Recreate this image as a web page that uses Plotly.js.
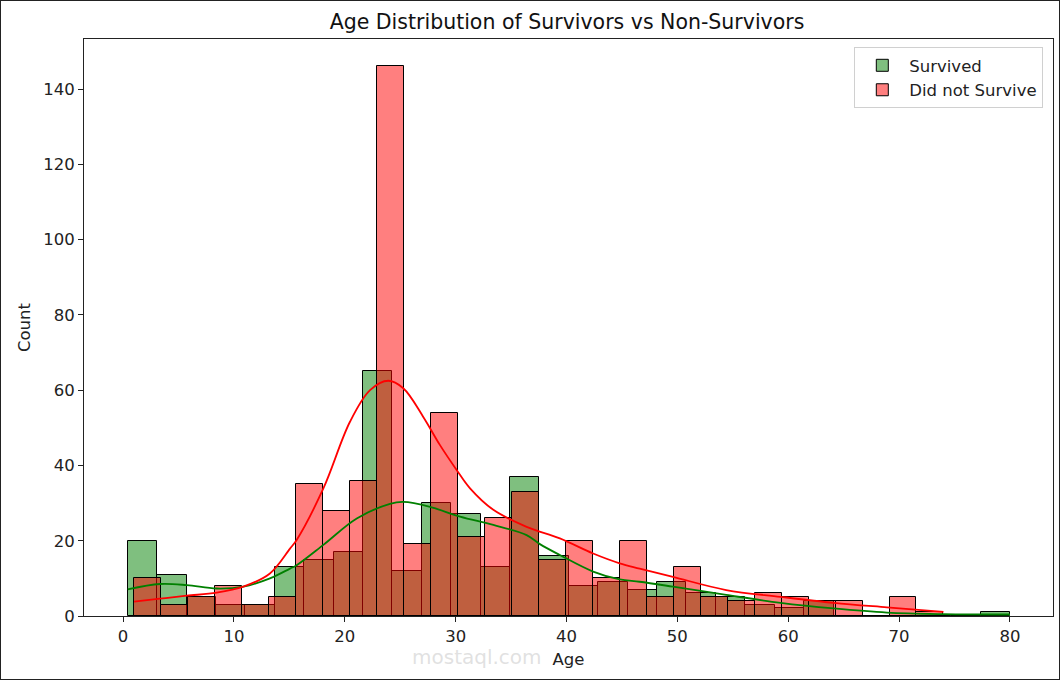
<!DOCTYPE html>
<html>
<head>
<meta charset="utf-8">
<script src="https://cdn.plot.ly/plotly-3.0.1.min.js"></script>
<style>
  body { margin: 0; background: #fff; }
  #wrap { width: 1058px; height: 678px; border: 1px solid #222; }
  #chart { width: 1058px; height: 678px; }
</style>
</head>
<body>
<div id="wrap"><div id="chart"></div></div>
<script>
// age histogram, 30 bins per group
var survivedRange = [0.42, 80];
var survivedCounts = [20, 11, 5, 3, 3, 13, 15, 17, 65, 12, 30, 27, 13, 37, 16,
                      8, 9, 7, 9, 6, 5, 3, 2, 4, 0, 0, 0, 0, 0, 1];
var diedRange = [1, 74];
var diedCounts = [10, 3, 5, 8, 3, 5, 35, 28, 36, 146, 19, 54, 21, 26, 33,
                  15, 20, 10, 20, 5, 13, 5, 4, 6, 5, 4, 4, 0, 5, 1];

// kde curves (scaled to counts)
var survivedKdeAge = [0.42, 3.34, 5.75, 8.45, 10.85, 13.25, 15.06, 15.66, 18.07, 21.08, 24.08, 25.28,
                      27.69, 30.4, 33.4, 36.4, 37.6, 39.4, 42.4, 44.8, 46.6, 49.6, 54.4, 59.3,
                      64.1, 68.9, 74, 80];
var survivedKde = [7.1, 8.5, 8.2, 7.3, 7.8, 10.0, 12.6, 13.5, 18.9, 25.9, 29.8, 30.3,
                   29.0, 26.4, 24.2, 21.5, 19.1, 16.2, 11.8, 9.7, 9.1, 7.8, 5.6, 3.5,
                   2.0, 0.9, 0.5, 0.4];
var diedKdeAge = [1, 3.34, 5.75, 8.45, 10.85, 13.25, 15.06, 15.66, 18.07, 20.47, 22.28, 23.93,
                  25.28, 27.08, 28.59, 30.09, 31.3, 33.4, 36.4, 39.4, 42.4, 44.8, 46.6, 49.6,
                  54.4, 59.3, 64.1, 68.9, 74];
var diedKde = [3.8, 4.6, 5.4, 6.2, 7.8, 11.3, 17.9, 20.2, 33.9, 51.6, 60.0, 62.5,
               60.5, 52.9, 45.4, 38.8, 33.9, 28.2, 23.7, 20.6, 16.6, 14.0, 12.6, 10.4,
               6.9, 5.1, 3.5, 2.3, 1.1];

function binCenters(range, n) {
  var w = (range[1] - range[0]) / n;
  var c = [];
  for (var i = 0; i < n; i++) c.push(range[0] + w * (i + 0.5));
  return c;
}

var survivedBars = {
  type: 'bar',
  name: 'Survived',
  x: binCenters(survivedRange, survivedCounts.length),
  y: survivedCounts,
  width: (survivedRange[1] - survivedRange[0]) / survivedCounts.length,
  marker: { color: 'rgba(0,128,0,0.5)', line: { color: '#000', width: 1 } },
  hoverinfo: 'x+y'
};
var diedBars = {
  type: 'bar',
  name: 'Did not Survive',
  x: binCenters(diedRange, diedCounts.length),
  y: diedCounts,
  width: (diedRange[1] - diedRange[0]) / diedCounts.length,
  marker: { color: 'rgba(255,0,0,0.5)', line: { color: '#000', width: 1 } },
  hoverinfo: 'x+y'
};
var survivedLine = {
  type: 'scatter', mode: 'lines', showlegend: false,
  x: survivedKdeAge, y: survivedKde,
  line: { color: '#008000', width: 1.8, shape: 'spline', smoothing: 1 }
};
var diedLine = {
  type: 'scatter', mode: 'lines', showlegend: false,
  x: diedKdeAge, y: diedKde,
  line: { color: '#ff0000', width: 1.8, shape: 'spline', smoothing: 1 }
};

var layout = {
  width: 1058,
  height: 678,
  margin: { l: 83, r: 6, t: 38, b: 63 },
  paper_bgcolor: '#fff',
  plot_bgcolor: '#fff',
  font: { family: 'DejaVu Sans, sans-serif', size: 16.5, color: '#222' },
  title: {
    text: 'Age Distribution of Survivors vs Non-Survivors',
    font: { size: 20.5, color: '#111' },
    x: 0.535, xanchor: 'center', y: 0.97, yanchor: 'middle'
  },
  barmode: 'overlay',
  bargap: 0,
  showlegend: true,
  legend: {
    x: 0.99, xanchor: 'right', y: 0.986, yanchor: 'top',
    bgcolor: 'rgba(255,255,255,0.8)', bordercolor: '#d0d0d0', borderwidth: 1,
    font: { size: 16.5 }, itemwidth: 44, tracegroupgap: 0
  },
  xaxis: {
    range: [-3.52, 83.88],
    tickvals: [0, 10, 20, 30, 40, 50, 60, 70, 80],
    ticks: 'outside', ticklen: 5, tickcolor: '#222',
    showgrid: false, zeroline: false,
    showline: true, mirror: true, linecolor: '#222', linewidth: 1,
    title: { text: 'Age', font: { size: 16.5 }, standoff: 8 }
  },
  yaxis: {
    range: [0, 153.3],
    tickvals: [0, 20, 40, 60, 80, 100, 120, 140],
    ticks: 'outside', ticklen: 5, tickcolor: '#222',
    showgrid: false, zeroline: false,
    showline: true, mirror: true, linecolor: '#222', linewidth: 1,
    title: { text: 'Count', font: { size: 16.5 }, standoff: 8 }
  },
  annotations: [
    { text: 'mostaql.com', xref: 'x', yref: 'paper', x: 38.0, xanchor: 'right',
      y: -0.071, yanchor: 'middle', showarrow: false,
      font: { size: 20, color: 'rgba(200,200,200,0.55)' } }
  ]
};

Plotly.newPlot('chart', [survivedBars, diedBars, survivedLine, diedLine], layout, { displayModeBar: false });
</script>
</body>
</html>
